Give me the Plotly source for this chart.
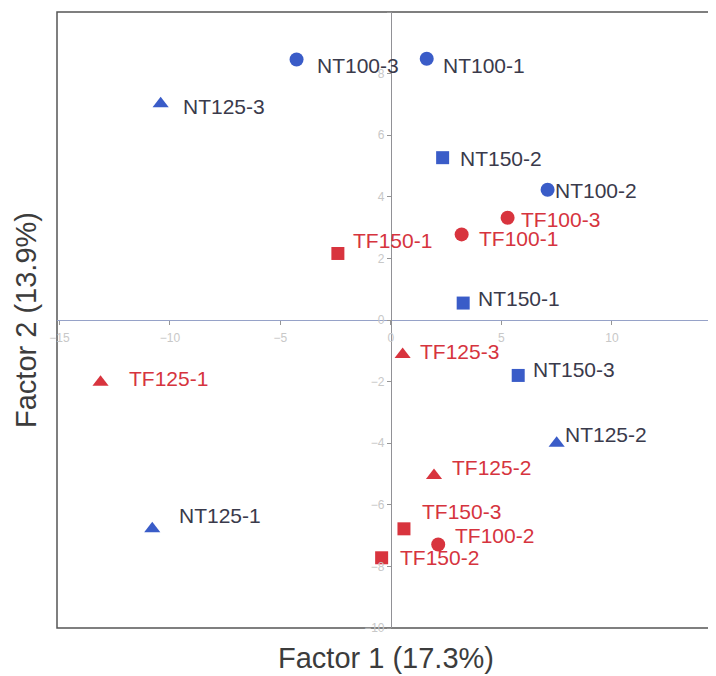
import plotly.graph_objects as go

# ---- data ----
sample_names = ["NT100-3", "NT100-1", "NT125-3", "NT150-2", "NT100-2", "TF100-3",
                "TF100-1", "TF150-1", "NT150-1", "TF125-3", "TF125-1", "NT150-3",
                "NT125-2", "TF125-2", "NT125-1", "TF150-3", "TF100-2", "TF150-2"]
factor1 = [-4.27, 1.62, -10.42, 2.34, 7.09, 5.28,
           3.20, -2.40, 3.27, 0.53, -13.14, 5.76,
           7.50, 1.95, -10.80, 0.59, 2.14, -0.42]
factor2 = [8.46, 8.48, 7.02, 5.27, 4.23, 3.32,
           2.78, 2.16, 0.55, -1.12, -2.02, -1.80,
           -4.00, -5.05, -6.78, -6.78, -7.29, -7.72]
x_tick_values = [-15, -10, -5, 0, 5, 10, 15]
y_tick_values = [-10, -8, -6, -4, -2, 0, 2, 4, 6, 8, 10]
x_title = "Factor 1 (17.3%)"
y_title = "Factor 2 (13.9%)"

# ---- styles ----
FONT = "Liberation Sans, Arial, sans-serif"
marker_color = {"NT": "rgb(58,92,200)", "TF": "rgb(216,52,62)"}
label_color = {"NT": "rgb(58,58,75)", "TF": "rgb(214,52,62)"}
symbol_of = {"100": "circle", "125": "triangle-up", "150": "square"}
size_of = {"100": 14, "125": 14, "150": 13}
# label offsets in pixels (right, down) from the marker
label_dx = [18, 14, 20, 15, 5, 11, 15, 13, 13, 15, 26, 13, 6, 16, 25, 16, 15, 16]
label_dy = [6, 7, 3, 1, 1, 2, 4, -13, -5, -3, -4, -6, -9, -8, -13, -17, -9, 0]

fig = go.Figure()
groups = {}
for i, name in enumerate(sample_names):
    key = (name[:2], name[2:5])
    groups.setdefault(key, []).append(i)

for (trt, lvl), idx in groups.items():
    fig.add_trace(go.Scatter(
        x=[factor1[i] for i in idx],
        y=[factor2[i] for i in idx],
        mode="markers",
        marker=dict(symbol=symbol_of[lvl], size=size_of[lvl], color=marker_color[trt],
                    line=dict(width=0)),
        showlegend=False,
        hoverinfo="skip",
    ))

for i, name in enumerate(sample_names):
    fig.add_annotation(
        x=factor1[i], y=factor2[i], text=name, showarrow=False,
        xanchor="left", yanchor="middle",
        xshift=label_dx[i], yshift=-label_dy[i],
        font=dict(family=FONT, size=21, color=label_color[name[:2]]),
    )

xr = [-15.11, 14.71]
yr = [-10, 10]
ypos_x0 = (0 - xr[0]) / (xr[1] - xr[0])

# page body has an 8px margin, so the figure is 8px smaller than the window
fig.update_layout(
    width=708, height=668,
    margin=dict(l=49, r=0, t=4, b=48, autoexpand=False),
    paper_bgcolor="white", plot_bgcolor="white",
    xaxis=dict(range=xr, anchor="free", position=0.5, automargin=False,
               tickvals=x_tick_values, showgrid=False, zeroline=False,
               showline=True, linecolor="rgb(150,162,200)", linewidth=1,
               ticks="outside", ticklen=4, tickcolor="rgb(150,150,150)",
               tickfont=dict(family=FONT, size=12, color="rgb(200,200,200)"),
               ticklabelstandoff=3),
    yaxis=dict(range=yr, anchor="free", position=ypos_x0, automargin=False,
               tickvals=y_tick_values, showgrid=False, zeroline=False,
               showline=True, linecolor="rgb(145,145,150)", linewidth=1,
               ticks="outside", ticklen=4, tickcolor="rgb(150,150,150)",
               tickfont=dict(family=FONT, size=12, color="rgb(200,200,200)")),
    shapes=[dict(type="rect", xref="paper", yref="paper", x0=0, x1=1.05, y0=0, y1=1,
                 line=dict(color="rgb(85,85,85)", width=1.5), layer="below")],
)

fig.add_annotation(xref="paper", yref="paper", x=(386 - 57) / 659, y=-0.02,
                   text=x_title, showarrow=False, xanchor="center", yanchor="top",
                   font=dict(family=FONT, size=29, color="rgb(60,60,60)"))
fig.add_annotation(xref="paper", yref="paper", x=-31 / 659, y=0.5,
                   text=y_title, showarrow=False, xanchor="center", yanchor="middle",
                   textangle=-90,
                   font=dict(family=FONT, size=29, color="rgb(60,60,60)"))

fig.write_html("out.html")
